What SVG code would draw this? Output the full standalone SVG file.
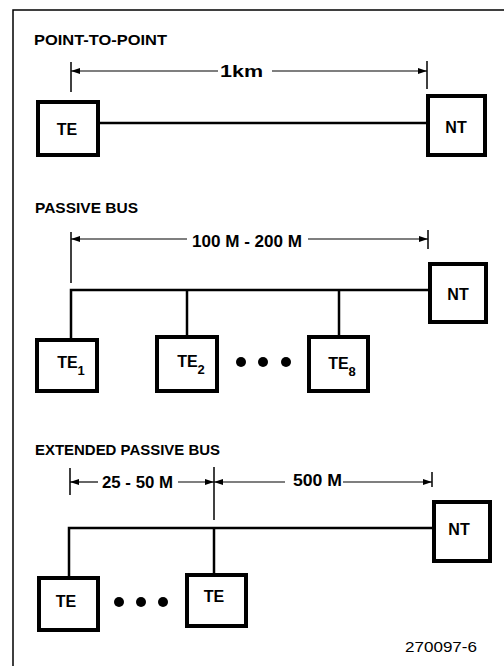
<svg xmlns="http://www.w3.org/2000/svg" width="504" height="666" viewBox="0 0 504 666">
<style>
  .bg{fill:#fff}
  .frame{fill:none;stroke:#000;stroke-width:1.5}
  .box{fill:#fff;stroke:#000;stroke-width:4}
  .wire{fill:none;stroke:#000;stroke-width:2.5}
  .tick{fill:none;stroke:#000;stroke-width:1.5}
  .dim{fill:none;stroke:#000;stroke-width:1.2}
  .title{font-family:"Liberation Sans",Arial,sans-serif;font-weight:bold;font-size:15px;fill:#000}
  .lbl{font-family:"Liberation Sans",Arial,sans-serif;font-weight:bold;font-size:16px;fill:#000;text-anchor:middle}
  .sub{font-size:13px}
  .dimtxt{font-family:"Liberation Sans",Arial,sans-serif;font-weight:bold;font-size:16px;fill:#000;text-anchor:middle}
  .fig{font-family:"Liberation Sans",Arial,sans-serif;font-size:15px;fill:#000}
  .dot{fill:#000}
</style>
<defs>
  <marker id="ah" markerUnits="userSpaceOnUse" markerWidth="10" markerHeight="6" refX="9" refY="3" orient="auto-start-reverse">
    <path d="M0,0 L9,3 L0,6 z" fill="#000"/>
  </marker>
</defs>
<rect class="bg" x="0" y="0" width="504" height="666"/>
<g id="frame">
  <path class="frame" d="M13,666 L13,10 L504,10"/>
</g>

<g id="titles">
  <text class="title" x="34" y="45" textLength="133" lengthAdjust="spacingAndGlyphs">POINT-TO-POINT</text>
  <text class="title" x="35" y="213" textLength="103" lengthAdjust="spacingAndGlyphs">PASSIVE BUS</text>
  <text class="title" x="35" y="455" textLength="185" lengthAdjust="spacingAndGlyphs">EXTENDED PASSIVE BUS</text>
</g>

<g id="connectors">
  <!-- point to point -->
  <line class="wire" x1="100" y1="123" x2="428" y2="123"/>
  <!-- passive bus -->
  <path class="wire" d="M71,338 L71,290 L430,290"/>
  <line class="wire" x1="187" y1="290" x2="187" y2="337"/>
  <line class="wire" x1="339" y1="290" x2="339" y2="337"/>
  <!-- extended passive bus -->
  <path class="wire" d="M69,578 L69,528 L434,528"/>
  <line class="wire" x1="214" y1="528" x2="214" y2="575"/>
</g>

<g id="dimensions">
  <!-- 1km -->
  <line class="tick" x1="71" y1="62" x2="71" y2="92"/>
  <line class="tick" x1="427" y1="61" x2="427" y2="89"/>
  <line class="dim" x1="71" y1="71" x2="218" y2="71" marker-start="url(#ah)"/>
  <line class="dim" x1="272" y1="71" x2="427" y2="71" marker-end="url(#ah)"/>
  <text class="dimtxt" x="241.5" y="77" textLength="43" lengthAdjust="spacingAndGlyphs">1km</text>
  <!-- 100 M - 200 M -->
  <line class="tick" x1="71" y1="232" x2="71" y2="283"/>
  <line class="tick" x1="428" y1="230" x2="428" y2="249"/>
  <line class="dim" x1="71" y1="239" x2="187" y2="239" marker-start="url(#ah)"/>
  <line class="dim" x1="308" y1="239" x2="428" y2="239" marker-end="url(#ah)"/>
  <text class="dimtxt" x="247" y="247" textLength="110" lengthAdjust="spacingAndGlyphs">100 M - 200 M</text>
  <!-- 25 - 50 M / 500 M -->
  <line class="tick" x1="70" y1="468" x2="70" y2="495"/>
  <line class="tick" x1="214" y1="467" x2="214" y2="520"/>
  <line class="tick" x1="432" y1="472" x2="432" y2="487"/>
  <line class="dim" x1="70" y1="482" x2="98" y2="482" marker-start="url(#ah)"/>
  <line class="dim" x1="178" y1="482" x2="214" y2="482" marker-end="url(#ah)"/>
  <line class="dim" x1="214" y1="482" x2="285" y2="482" marker-start="url(#ah)"/>
  <line class="dim" x1="343" y1="482" x2="432" y2="482" marker-end="url(#ah)"/>
  <text class="dimtxt" x="137.5" y="488" textLength="71" lengthAdjust="spacingAndGlyphs">25 - 50 M</text>
  <text class="dimtxt" x="317.5" y="486" textLength="49" lengthAdjust="spacingAndGlyphs">500 M</text>
</g>

<!-- Point-to-point nodes -->
<g id="ptp-te">
  <rect class="box" x="38" y="102" width="60" height="53"/>
  <text class="lbl" x="67" y="135">TE</text>
</g>
<g id="ptp-nt">
  <rect class="box" x="428" y="96" width="57" height="59"/>
  <text class="lbl" x="456" y="133">NT</text>
</g>

<!-- Passive bus nodes -->
<g id="pb-te1">
  <rect class="box" x="37" y="340" width="60" height="51"/>
  <text class="lbl" x="71" y="368">TE<tspan class="sub" dy="7">1</tspan></text>
</g>
<g id="pb-te2">
  <rect class="box" x="157" y="337" width="60" height="54"/>
  <text class="lbl" x="191" y="367">TE<tspan class="sub" dy="7">2</tspan></text>
</g>
<g id="pb-dots">
  <circle class="dot" cx="241" cy="362" r="5"/>
  <circle class="dot" cx="263" cy="362" r="5"/>
  <circle class="dot" cx="286" cy="362" r="5"/>
</g>
<g id="pb-te8">
  <rect class="box" x="309" y="337" width="59" height="54"/>
  <text class="lbl" x="342" y="369">TE<tspan class="sub" dy="7">8</tspan></text>
</g>
<g id="pb-nt">
  <rect class="box" x="430" y="264" width="56" height="58"/>
  <text class="lbl" x="458" y="300">NT</text>
</g>

<!-- Extended passive bus nodes -->
<g id="epb-te1">
  <rect class="box" x="39" y="578" width="59" height="52"/>
  <text class="lbl" x="66" y="607">TE</text>
</g>
<g id="epb-dots">
  <circle class="dot" cx="119" cy="602" r="5"/>
  <circle class="dot" cx="141" cy="602" r="5"/>
  <circle class="dot" cx="163" cy="602" r="5"/>
</g>
<g id="epb-te2">
  <rect class="box" x="187" y="575" width="59" height="51"/>
  <text class="lbl" x="214" y="602">TE</text>
</g>
<g id="epb-nt">
  <rect class="box" x="434" y="502" width="56" height="59"/>
  <text class="lbl" x="459" y="535">NT</text>
</g>

<text class="fig" x="405" y="652" textLength="72" lengthAdjust="spacingAndGlyphs">270097-6</text>
</svg>
